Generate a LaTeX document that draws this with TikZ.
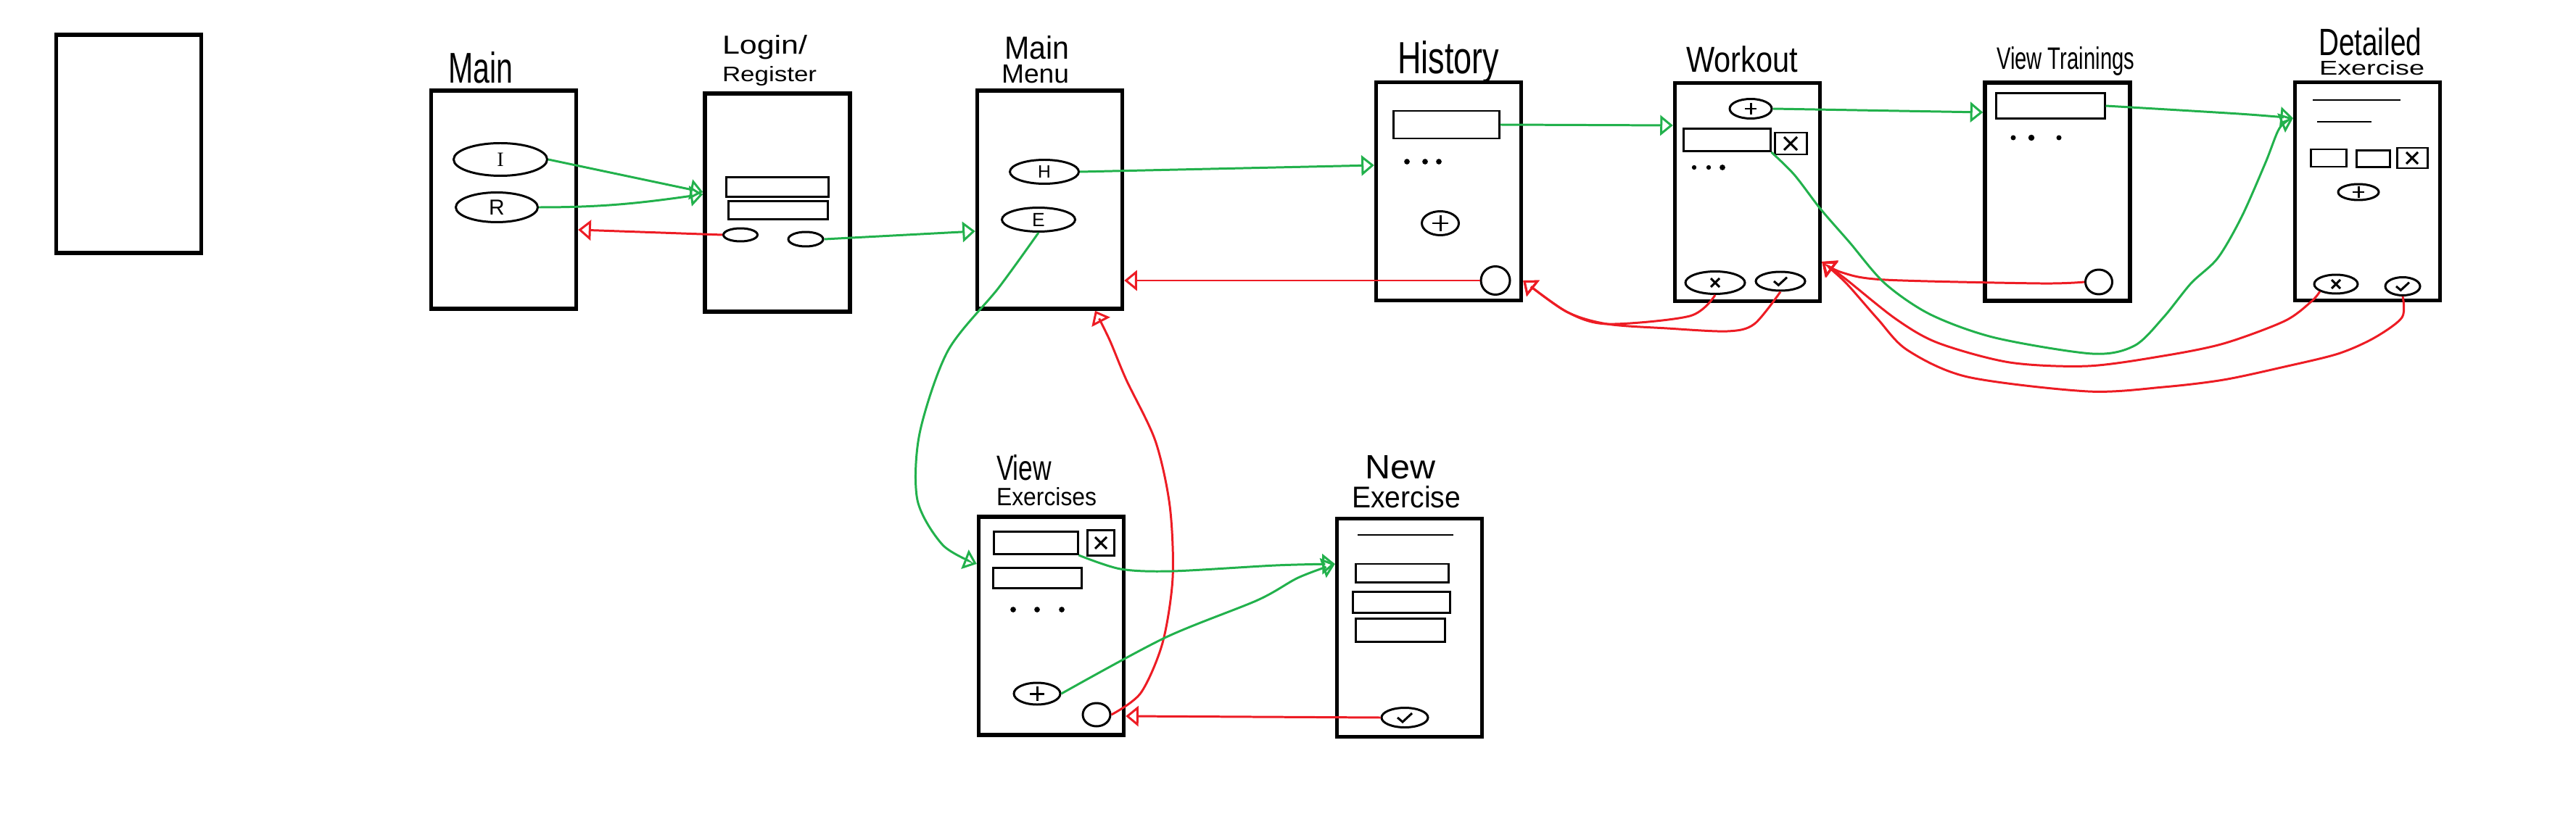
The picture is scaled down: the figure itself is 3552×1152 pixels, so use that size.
\documentclass[tikz,border=0pt]{standalone}
\usepackage{fontspec}
\setmainfont{Liberation Sans}
\newfontfamily\serfont{Liberation Serif}
\usetikzlibrary{arrows.meta,shapes.geometric}
\definecolor{pgreen}{RGB}{34,177,76}
\definecolor{pred}{RGB}{237,28,36}
\newcommand\plusat[2]{\draw[skl] (#1) +(-#2,0) -- +(#2,0) +(0,-#2) -- +(0,#2);}
\newcommand\crossat[2]{\draw[skl] (#1) +(-#2,-#2) -- +(#2,#2) +(-#2,#2) -- +(#2,-#2);}
\newcommand\checkat[2]{\draw[skl] (#1) +(-#2,0) -- +(-0.3*#2,0.6*#2) -- +(#2,-0.6*#2);}
\begin{document}
\begin{tikzpicture}[x=0.01cm,y=-0.01cm,
 screen/.style={draw=black, line width=1.5pt, minimum width=2cm, minimum height=3.01cm, inner sep=0pt},
 skl/.style={draw=black, line width=0.85pt},
 wh/.style 2 args={minimum width=#1*0.01cm, minimum height=#2*0.01cm},
 btn/.style={draw=black, line width=0.85pt, ellipse, inner sep=0pt},
 fld/.style={draw=black, line width=0.85pt, rectangle, inner sep=0pt},
 lbl/.style={anchor=base west, inner sep=0pt, outer sep=0pt},
 gline/.style={draw=pgreen, line width=0.85pt, -{Triangle[open,length=5pt,width=8pt]}},
 rline/.style={draw=pred, line width=0.85pt, -{Triangle[open,length=5pt,width=8pt]}},
 dot/.style={fill=black},
]
\useasboundingbox (0,0) rectangle (3552,1152);

% ---------- screens ----------
\node[screen] (blank)  at (177.5,198.5) {};
\node[screen] (main)   at (694.5,275.5) {};
\node[screen] (login)  at (1072,279.5) {};
\node[screen] (mmenu)  at (1447.5,275.5) {};
\node[screen] (hist)   at (1997.5,264) {};
\node[screen] (wout)   at (2409.5,265) {};
\node[screen] (vtrain) at (2837,264.5) {};
\node[screen] (dexer)  at (3264.5,264) {};
\node[screen] (vexer)  at (1449.5,863.5) {};
\node[screen] (nexer)  at (1943.5,866) {};

% ---------- titles ----------
\node[lbl] (tmain) at (618,115) {\resizebox{0.89cm}{0.43cm}{Main}};
\node[lbl] (tlogin) at (996,75) {\resizebox{1.17cm}{0.26cm}{Login/}};
\node[lbl] (treg) at (996,113) {\resizebox{1.30cm}{0.21cm}{Register}};
\node[lbl] (tmm1) at (1385,82) {\resizebox{0.89cm}{0.32cm}{Main}};
\node[lbl] (tmm2) at (1381,115) {\resizebox{0.93cm}{0.25cm}{Menu}};
\node[lbl] (thist) at (1927,102) {\resizebox{1.40cm}{0.45cm}{History}};
\node[lbl] (twout) at (2325,100) {\resizebox{1.54cm}{0.36cm}{Workout}};
\node[lbl] (tvt) at (2753,96) {\resizebox{1.90cm}{0.31cm}{View Trainings}};
\node[lbl] (tde1) at (3197,77) {\resizebox{1.42cm}{0.38cm}{Detailed}};
\node[lbl] (tde2) at (3198,104) {\resizebox{1.45cm}{0.20cm}{Exercise}};
\node[lbl] (tve1) at (1374,662) {\resizebox{0.76cm}{0.35cm}{View}};
\node[lbl] (tve2) at (1374,697) {\resizebox{1.38cm}{0.25cm}{Exercises}};
\node[lbl] (tne1) at (1882,660) {\resizebox{0.97cm}{0.32cm}{New}};
\node[lbl] (tne2) at (1864,700) {\resizebox{1.50cm}{0.30cm}{Exercise}};

% ---------- Main ----------
\node[btn, wh={129}{45}] (mI) at (690,220) {\serfont\fontsize{8}{8}\selectfont I};
\node[btn, wh={113}{41}] (mR) at (685,286) {\fontsize{8.5}{8.5}\selectfont R};

% ---------- Login/Register ----------
\node[fld, wh={141}{27}] (lf1) at (1072,258) {};
\node[fld, wh={137}{25}] (lf2) at (1073,290) {};
\node[btn, wh={47}{18}] (lback) at (1021,324) {};
\node[btn, wh={48}{20}] (lok) at (1111,330) {};

% ---------- Main Menu ----------
\node[btn, wh={95}{33}] (mH) at (1440,237) {\fontsize{7}{7}\selectfont H};
\node[btn, wh={101}{33}] (mE) at (1432,303) {\fontsize{7.5}{7.5}\selectfont E};

% ---------- History ----------
\node[fld, wh={146}{38}] (hrow) at (1994,172) {};
\fill[dot] (1940,223) circle[radius=1.1pt] (1965,223) circle[radius=1.1pt] (1984,223) circle[radius=1.1pt];
\node[btn, wh={51}{33}] (hplus) at (1986,308) {};
\plusat{hplus.center}{11}
\node[btn, wh={40}{39}] (hback) at (2062,387) {};

% ---------- Workout ----------
\node[btn, wh={58}{27}] (wplus) at (2414,150) {};
\plusat{wplus.center}{8}
\node[fld, wh={120}{31}] (wrow) at (2381,193) {};
\node[fld, wh={44}{30}] (wdel) at (2469,198) {};
\crossat{wdel.center}{9}
\fill[dot] (2336,231) circle[radius=0.9pt] (2356,231) circle[radius=0.9pt] (2375,231) circle[radius=1.1pt];
\node[btn, wh={82}{31}] (wcancel) at (2365,390) {};
\crossat{wcancel.center}{6}
\node[btn, wh={68}{26}] (wok) at (2455,388) {};
\checkat{wok.center}{9}

% ---------- View Trainings ----------
\node[fld, wh={150}{35}] (vtrow) at (2827,146) {};
\fill[dot] (2776,190) circle[radius=1pt] (2801,190) circle[radius=1.2pt] (2839,190) circle[radius=1pt];
\node[btn, wh={37}{34}] (vtback) at (2894,389) {};

% ---------- Detailed Exercise ----------
\draw[skl] (3189,138) -- (3310,138);
\draw[skl] (3195,168) -- (3270,168);
\node[fld, wh={49}{24}] (dset1) at (3210.5,218) {};
\node[fld, wh={46}{23}] (dset2) at (3272,219) {};
\node[fld, wh={42}{28}] (ddel) at (3326,218) {};
\crossat{ddel.center}{8}
\node[btn, wh={56}{22}] (dplus) at (3252,265) {};
\plusat{dplus.center}{8}
\node[btn, wh={60}{26}] (dcancel) at (3221,392) {};
\crossat{dcancel.center}{6}
\node[btn, wh={48}{25}] (dok) at (3313,395) {};
\checkat{dok.center}{9}

% ---------- View Exercises ----------
\node[fld, wh={116}{31}] (vrow1) at (1428,749) {};
\node[fld, wh={37}{35}] (vdel) at (1518,749) {};
\crossat{vdel.center}{8}
\node[fld, wh={122}{28}] (vrow2) at (1430,797) {};
\fill[dot] (1397,841) circle[radius=1.1pt] (1430,841) circle[radius=1.1pt] (1464,841) circle[radius=1.1pt];
\node[btn, wh={64}{30}] (vplus) at (1430,957) {};
\plusat{vplus.center}{10}
\node[btn, wh={38}{32}] (vback) at (1512,986) {};

% ---------- New Exercise ----------
\draw[skl] (1872,738) -- (2004,738);
\node[fld, wh={128}{25}] (nf1) at (1933,790.5) {};
\node[fld, wh={134}{29}] (nf2) at (1932,830.5) {};
\node[fld, wh={123}{32}] (nf3) at (1930.5,869) {};
\node[btn, wh={64}{27}] (nok) at (1937,990) {};
\checkat{nok.center}{10}

% ---------- connectors ----------
\draw[gline] (mI.east) -- (login.west |- 0,265);
\draw[gline] (mR.east) to[out=0,in=188] (login.west |- 0,268);
\draw[rline] (lback.west) -- (main.east |- 0,317);
\draw[gline] (lok.east) -- (mmenu.west |- 0,319);
\draw[gline] (mH.east) -- (hist.west |- 0,228);
\draw[rline] (hback.west) -- (mmenu.east |- 0,387);
\draw[gline] (hrow.east) -- (wout.west |- 0,173);
\draw[gline] plot[smooth] coordinates {(mE.south) (1377,397) (1307,484) (1268,598) (1265,690) (1300,752) (vexer.west |- 0,778)};
\draw[rline] plot[smooth] coordinates {(vback.east) (1573,956) (1603,887) (1617,797) (1613,698) (1593,608) (1553,524) (1530,469) (mmenu.south -| 1510,0)};
\draw[gline] plot[smooth] coordinates {(vrow1.south east) (1545,785) (1616,788) (1759,780) (nexer.west |- 0,778)};
\draw[gline] plot[smooth] coordinates {(vplus.east) (1606,880) (1734,828) (1790,797) (nexer.west |- 0,778)};
\draw[rline] (nok.west) -- (vexer.east |- 0,988);
\draw[gline] (wplus.east) -- (vtrain.west |- 0,155);
\draw[rline] plot[smooth] coordinates {(wcancel.south) (2330,436) (2216,447) (2160,430) (hist.east |- 0,387)};
\draw[rline] plot[smooth] coordinates {(wok.south) (2419,447) (2382,457) (2299,453) (2216,447) (2160,430) (hist.east |- 0,387)};
\draw[rline] plot[smooth] coordinates {(vtback.west) (2813,391) (2599,386) (2540,376) (wout.east |- 0,361)};
\draw[gline] plot[smooth] coordinates {(wrow.south east) (2474,241) (2510,288) (2550,334) (2599,391) (2662,434) (2751,466) (2885,488) (2943,477) (2983,438) (3021,391) (3058,356) (3091,299) (3124,224) (3143,177) (dexer.west |- 0,163)};
\draw[gline] plot[smooth] coordinates {(vtrow.east) (3087,157) (dexer.west |- 0,163)};
\draw[rline] plot[smooth] coordinates {(dcancel.south west) (3187,416) (3150,443) (3066,474) (2983,491) (2879,505) (2771,500) (2672,473) (2614,440) (2545,385) (wout.east |- 0,361)};
\draw[rline] plot[smooth] coordinates {(dok.south) (3312,438) (3274,466) (3224,488) (3150,506) (3066,524) (2983,534) (2879,540) (2713,520) (2630,483) (2589,440) (2545,390) (wout.east |- 0,361)};
\end{tikzpicture}
\end{document}
